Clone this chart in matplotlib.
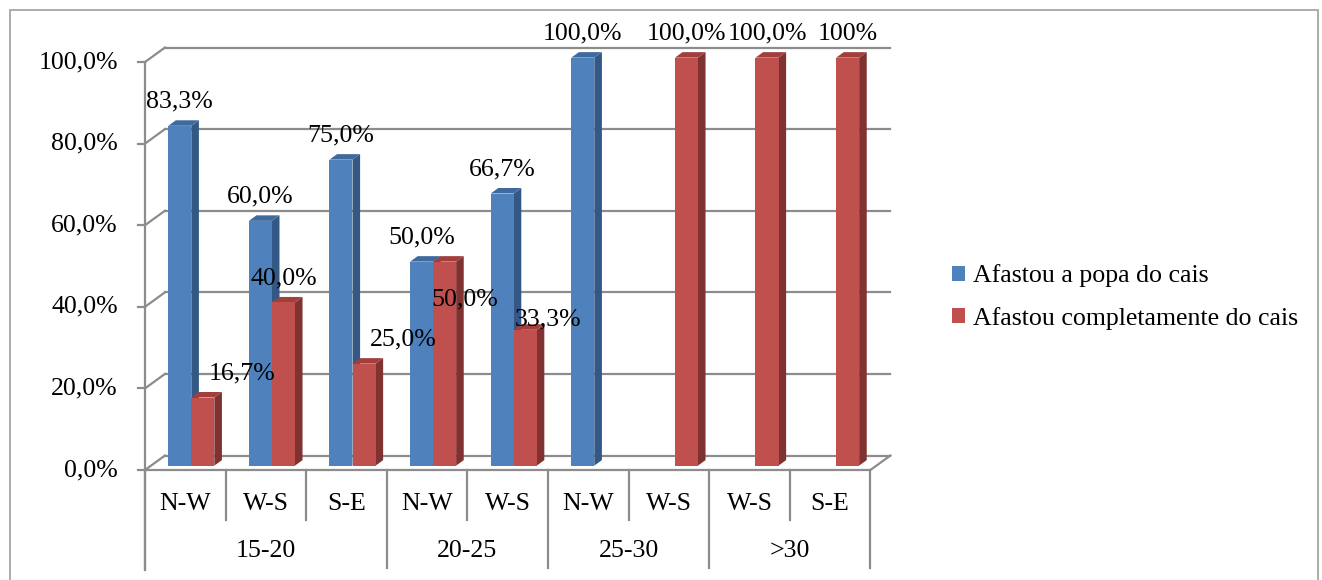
import matplotlib
matplotlib.use("Agg")
import matplotlib.pyplot as plt
from matplotlib.patches import Polygon, Rectangle

plt.rcParams['font.family'] = ['Liberation Serif', 'DejaVu Serif']

# ---- data ----
groups = ["15-20", "20-25", "25-30", ">30"]
group_sizes = [3, 2, 2, 2]
subcats = ["N-W", "W-S", "S-E", "N-W", "W-S", "N-W", "W-S", "W-S", "S-E"]
series_names = ["Afastou a popa do cais", "Afastou completamente do cais"]
blue_vals = [83.3, 60.0, 75.0, 50.0, 66.7, 100.0, None, None, None]
red_vals = [16.7, 40.0, 25.0, 50.0, 33.3, None, 100.0, 100.0, 100.0]
red_label_decimals = [1, 1, 1, 1, 1, 1, 1, 1, 0]
yticks = [0, 20, 40, 60, 80, 100]

# ---- style ----
W, H = 1322, 580
FS = 18.6
blue = dict(front="#4F81BD", side="#345885", top="#3F6A9E")
red = dict(front="#C0504D", side="#7F3230", top="#A03F3C")
grid_c = "#8C8C8C"

# pixel geometry (front plane)
px0, slot_px = 145, 80.6
py0, pct_px = 470, 4.08

fig = plt.figure(figsize=(W / 100, H / 100), dpi=100)
ax = fig.add_axes([0, 0, 1, 1])
ax.set_xlim((0 - px0) / slot_px, (W - px0) / slot_px)
ax.set_ylim((py0 - H) / pct_px, py0 / pct_px)
ax.axis("off")

n = len(subcats)
Dx, Dy = 20 / slot_px, 14.5 / pct_px   # depth vector in data units
f0, fb = 0.3, 0.38                      # bar front depth fraction, bar depth
bw = 1 / 3.5                            # gap width 150%

def px2dx(p):
    return p / slot_px

def px2dy(p):
    return p / pct_px

lw = 1.6
# back wall gridlines and left wall lines
for t in yticks:
    ax.plot([Dx, n + Dx], [t + Dy, t + Dy], color=grid_c, lw=lw, zorder=1)
    ax.plot([0, Dx], [t, t + Dy], color=grid_c, lw=lw, zorder=1)
    ax.plot([-px2dx(7), 0], [t, t], color=grid_c, lw=lw, zorder=1)
    ax.text(-px2dx(27), t, f"{t:.1f}%".replace(".", ","), ha="right",
            va="center", fontsize=FS, zorder=5)
# floor
ax.plot([0, n], [0, 0], color=grid_c, lw=lw, zorder=1)
ax.plot([n, n + Dx], [0, Dy], color=grid_c, lw=lw, zorder=1)
# vertical axis line
ax.plot([0, 0], [100, px2dy(-100)], color=grid_c, lw=lw, zorder=1)

# category dividers and labels
bounds = [0]
for s in group_sizes:
    bounds.append(bounds[-1] + s)
for i in range(1, n):
    if i not in bounds:
        ax.plot([i, i], [0, px2dy(-50)], color=grid_c, lw=lw, zorder=1)
for b in bounds:
    ax.plot([b, b], [0, px2dy(-98)], color=grid_c, lw=lw, zorder=1)
for i, s in enumerate(subcats):
    ax.text(i + 0.5, px2dy(-34), s, ha="center", va="center", fontsize=FS)
for g, a, b in zip(groups, bounds[:-1], bounds[1:]):
    ax.text((a + b) / 2, px2dy(-81), g, ha="center", va="center", fontsize=FS)

# bars
x_blue = [i + 0.5 - bw + f0 * Dx for i in range(n)]
x_red = [i + 0.5 + f0 * Dx for i in range(n)]
base = f0 * Dy
ddx, ddy = fb * Dx, fb * Dy

def draw_3d(x, v, col, z):
    top = base + v
    side = Polygon([(x + bw, base), (x + bw + ddx, base + ddy),
                    (x + bw + ddx, top + ddy), (x + bw, top)],
                   closed=True, fc=col["side"], ec="none", zorder=z)
    topf = Polygon([(x, top), (x + ddx, top + ddy),
                    (x + bw + ddx, top + ddy), (x + bw, top)],
                   closed=True, fc=col["top"], ec="none", zorder=z)
    ax.add_patch(side)
    ax.add_patch(topf)
    ax.bar(x, v, width=bw, bottom=base, align="edge",
           color=col["front"], zorder=z + 0.1)

order_z = 2
for i in range(n):
    if blue_vals[i] is not None:
        draw_3d(x_blue[i], blue_vals[i], blue, order_z)
    order_z += 0.5
    if red_vals[i] is not None:
        draw_3d(x_red[i], red_vals[i], red, order_z)
    order_z += 0.5

# data labels
lab_off = 24
red_label_shift = {0: (39, 0), 2: (39, 0), 3: (20, -62), 4: (23, -14)}
for i, v in enumerate(blue_vals):
    if v is None:
        continue
    ax.annotate(f"{v:.1f}%".replace(".", ","), (x_blue[i] + bw / 2, base + v),
                xytext=(0, lab_off), textcoords="offset pixels",
                ha="center", va="center", fontsize=FS, zorder=20)
for i, v in enumerate(red_vals):
    if v is None:
        continue
    dx, dy = red_label_shift.get(i, (0, 0))
    txt = f"{v:.{red_label_decimals[i]}f}%".replace(".", ",")
    ax.annotate(txt, (x_red[i] + bw / 2, base + v),
                xytext=(dx, lab_off + dy), textcoords="offset pixels",
                ha="center", va="center", fontsize=FS, zorder=20)

# legend
leg_handles = [Rectangle((0, 0), 1, 1, fc=blue["front"]),
               Rectangle((0, 0), 1, 1, fc=red["front"])]
fig.legend(leg_handles, series_names, loc="center left",
           bbox_to_anchor=(942 / W, 1 - 297 / H), frameon=False,
           fontsize=FS, handlelength=0.5, handleheight=0.5,
           handletextpad=0.3, labelspacing=0.75, borderaxespad=0)

# outer border
fig.patches.append(Rectangle((10 / W, -0.01), (1308 / W), 1 - 10 / H + 0.01,
                             transform=fig.transFigure, fill=False,
                             ec="#A6A6A6", lw=1.3))

fig.savefig("out.png", dpi=100)
